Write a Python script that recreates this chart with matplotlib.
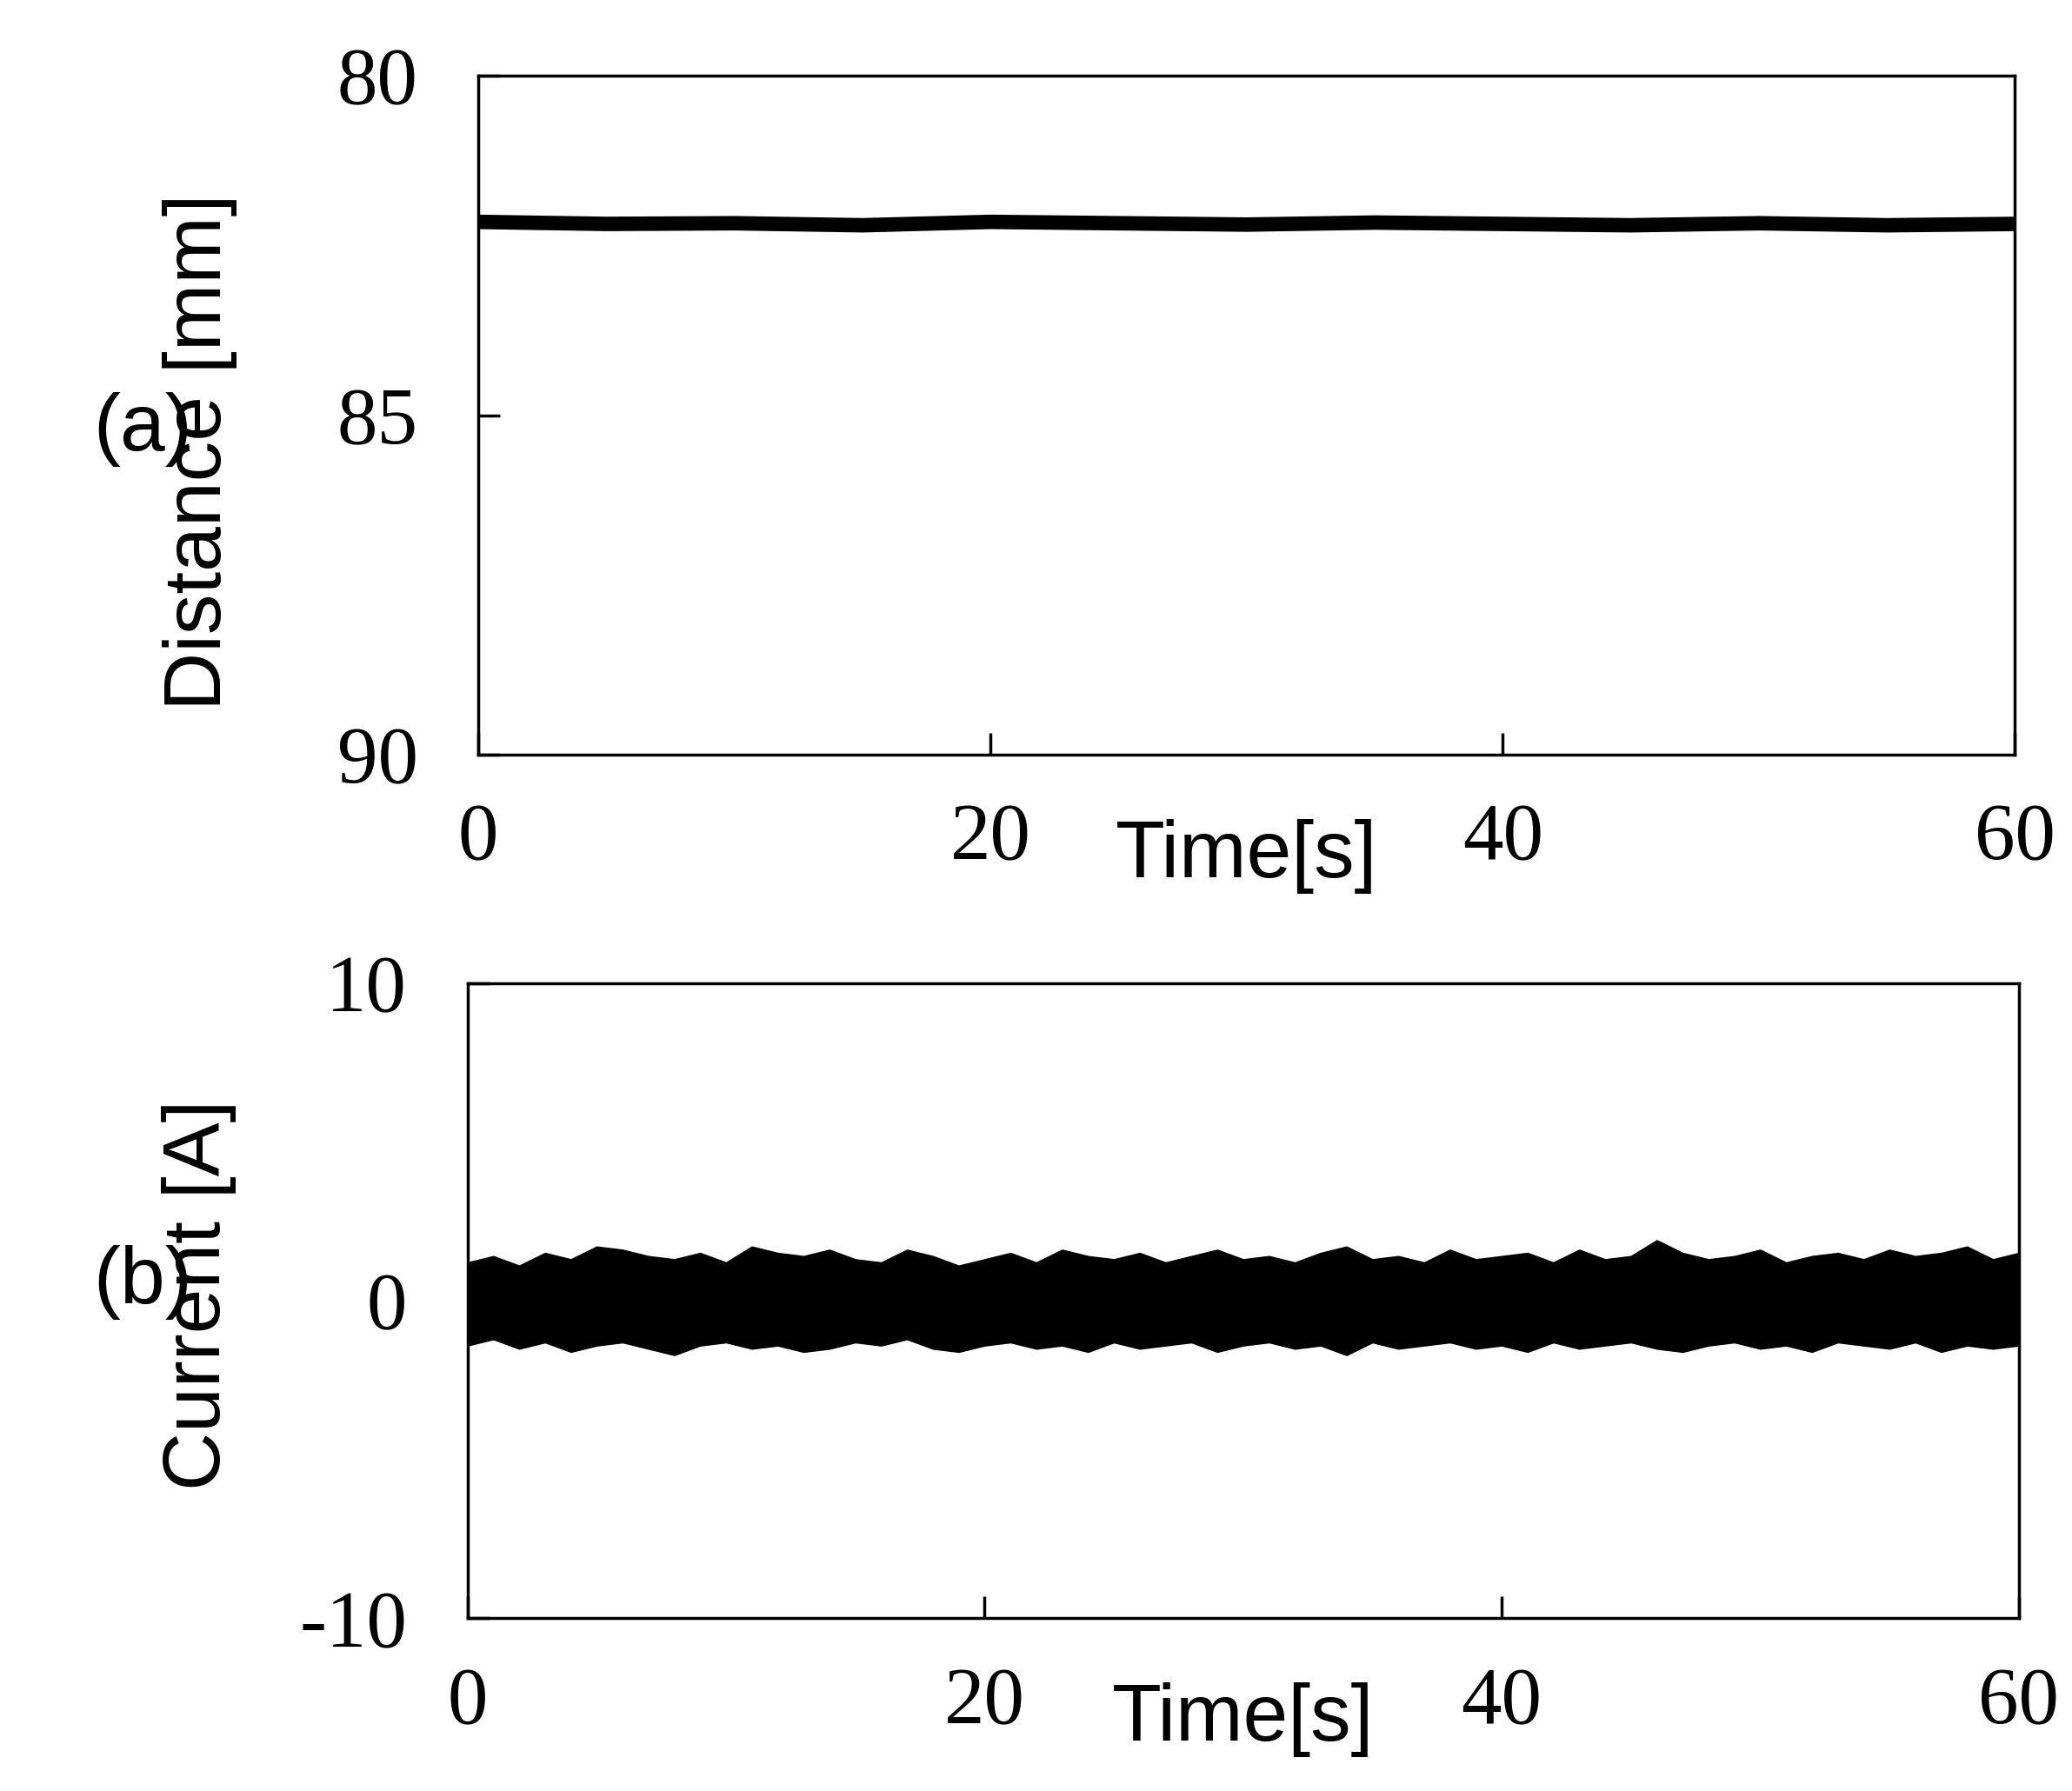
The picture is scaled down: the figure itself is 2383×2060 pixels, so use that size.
import matplotlib.pyplot as plt
import numpy as np

# distance trace (mm)
dist_t = [0, 5, 10, 15, 20, 25, 30, 35, 40, 45, 50, 55, 60]
dist_mm = [82.15, 82.18, 82.17, 82.2, 82.15, 82.17, 82.19, 82.16, 82.18, 82.2, 82.17, 82.2, 82.18]

# current envelope (A), upper and lower edges of the noisy band
cur_t = [0, 1, 2, 3, 4, 5, 6, 7, 8, 9, 10, 11, 12, 13, 14, 15, 16, 17, 18, 19, 20,
         21, 22, 23, 24, 25, 26, 27, 28, 29, 30, 31, 32, 33, 34, 35, 36, 37, 38, 39, 40,
         41, 42, 43, 44, 45, 46, 47, 48, 49, 50, 51, 52, 53, 54, 55, 56, 57, 58, 59, 60]
cur_hi = [1.2, 1.4, 1.1, 1.5, 1.3, 1.7, 1.6, 1.4, 1.3, 1.5, 1.2, 1.7, 1.5, 1.4, 1.6, 1.3, 1.2, 1.6, 1.4, 1.1, 1.3,
          1.5, 1.2, 1.6, 1.4, 1.3, 1.5, 1.2, 1.4, 1.6, 1.3, 1.4, 1.2, 1.5, 1.7, 1.3, 1.4, 1.2, 1.6, 1.3, 1.4,
          1.5, 1.2, 1.6, 1.3, 1.4, 1.9, 1.5, 1.3, 1.4, 1.6, 1.2, 1.4, 1.5, 1.3, 1.6, 1.4, 1.5, 1.7, 1.3, 1.5]
cur_lo = [-1.4, -1.2, -1.5, -1.3, -1.6, -1.4, -1.3, -1.5, -1.7, -1.4, -1.3, -1.5, -1.4, -1.6, -1.5, -1.3, -1.4, -1.2, -1.5, -1.6, -1.4,
          -1.3, -1.5, -1.4, -1.6, -1.3, -1.5, -1.4, -1.3, -1.6, -1.4, -1.3, -1.5, -1.4, -1.7, -1.3, -1.5, -1.4, -1.3, -1.5, -1.4,
          -1.6, -1.3, -1.5, -1.4, -1.3, -1.5, -1.6, -1.4, -1.3, -1.5, -1.4, -1.6, -1.3, -1.4, -1.5, -1.3, -1.6, -1.4, -1.5, -1.4]

SERIF = "Liberation Serif"
SANS = "Liberation Sans"
FS = 67

fig = plt.figure(figsize=(23.83, 20.60), dpi=100)
ax1 = fig.add_axes([0.2308, 0.5786, 0.7417, 0.379])
ax2 = fig.add_axes([0.2256, 0.0964, 0.7487, 0.3546])

for ax in (ax1, ax2):
    for s in ax.spines.values():
        s.set_linewidth(2.5)
    ax.tick_params(direction="in", length=18, width=2.5, top=False, right=False)
    ax.set_xlim(0, 60)
    ax.set_xticks([0, 20, 40, 60])
    for lab in ax.get_xticklabels() + ax.get_yticklabels():
        lab.set_fontfamily(SERIF)
        lab.set_fontsize(FS)
    ax.tick_params(axis="x", pad=40)
    ax.tick_params(axis="y", pad=50)

ax1.text(0.5, -0.15, "Time[s]", transform=ax1.transAxes, ha="center", va="center",
         fontsize=FS, family=SANS)
ax2.text(0.5, -0.16, "Time[s]", transform=ax2.transAxes, ha="center", va="center",
         fontsize=FS, family=SANS)

ax1.plot(dist_t, dist_mm, color="black", lw=12)
ax1.set_ylim(90, 80)
ax1.set_yticks([80, 85, 90])
ax1.set_yticklabels(["80", "85", "90"], fontfamily=SERIF, fontsize=FS)
ax1.set_ylabel("Distance [mm]", fontsize=FS, family=SANS)
ax1.yaxis.set_label_coords(-0.157, 0.446)
fig.text(0.045, 0.76, "(a)", fontsize=FS, family=SANS, va="center")

ax2.fill_between(cur_t, cur_lo, cur_hi, color="black", lw=1.5, edgecolor="black")
ax2.set_ylim(-10, 10)
ax2.set_yticks([-10, 0, 10])
ax2.set_yticklabels(["-10", "0", "10"], fontfamily=SERIF, fontsize=FS)
ax2.set_ylabel("Current [A]", fontsize=FS, family=SANS)
ax2.yaxis.set_label_coords(-0.149, 0.51)
fig.text(0.045, 0.284, "(b)", fontsize=FS, family=SANS, va="center")

fig.savefig("out.png", dpi=100, facecolor="white")
